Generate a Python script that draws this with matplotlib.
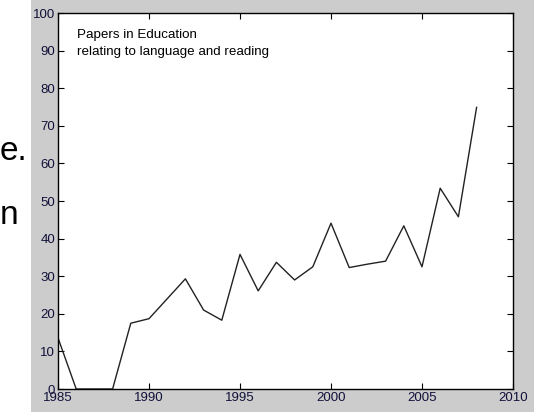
import matplotlib.pyplot as plt
from matplotlib.patches import Rectangle

# papers per year
years = [1985, 1986, 1987, 1988, 1989, 1990, 1991, 1992, 1993, 1994, 1995, 1996,
         1997, 1998, 1999, 2000, 2001, 2002, 2003, 2004, 2005, 2006, 2007, 2008]
papers = [13.6, 0, 0, 0, 17.5, 18.7, 24.0, 29.3, 21.0, 18.3, 35.8, 26.1,
          33.7, 29.0, 32.5, 44.1, 32.3, 33.2, 34.0, 43.4, 32.5, 53.4, 45.8, 74.9]
xticks = [1985, 1990, 1995, 2000, 2005, 2010]
yticks = [0, 10, 20, 30, 40, 50, 60, 70, 80, 90, 100]
note = "Papers in Education\nrelating to language and reading"

plt.rcParams['font.family'] = ['Liberation Sans', 'DejaVu Sans']

fig = plt.figure(figsize=(5.49, 4.12), dpi=100, facecolor='white')

# grey matlab figure panel, kept behind the axes
fig.patches.append(Rectangle((31 / 549, 0), (534 - 31) / 549, 1,
                             transform=fig.transFigure, facecolor='#cccccc',
                             edgecolor='none', zorder=-10))

# fragments of slide text left of the figure
fig.text(0, 1 - 152 / 412, "e.", fontsize=24, va='center', ha='left', color='black')
fig.text(0, 1 - 215 / 412, "n", fontsize=24, va='center', ha='left', color='black')

ax = fig.add_axes([58 / 549, 23 / 412, (513 - 58) / 549, (389 - 13) / 412])
ax.set_zorder(5)
ax.set_facecolor('white')
ax.plot(years, papers, color='#222222', lw=1.0)

ax.set_xlim(1985, 2010)
ax.set_ylim(0, 100)
ax.set_xticks(xticks)
ax.set_yticks(yticks)
ax.tick_params(direction='in', length=4, width=0.8, top=True, right=True,
               labelsize=9.5, labelcolor='#10103a', pad=2)
ax.tick_params(axis='x', pad=2.5)
for s in ax.spines.values():
    s.set_linewidth(1.0)
    s.set_color('black')

ax.text(0.042, 0.958, note, transform=ax.transAxes, fontsize=9.6,
        va='top', ha='left', linespacing=1.55)

fig.savefig('out.png', dpi=100, facecolor='white')
